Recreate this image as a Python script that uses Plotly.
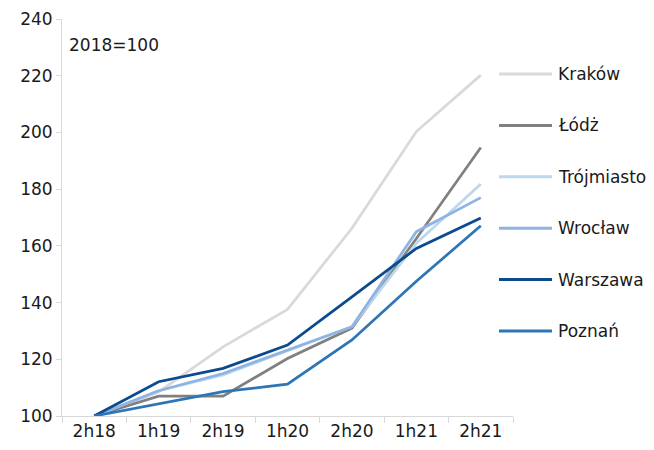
import plotly.graph_objects as go

categories = ["2h18", "1h19", "2h19", "1h20", "2h20", "1h21", "2h21"]
krakow = [100, 108.5, 124.4, 137.6, 166.2, 200.3, 220.2]
lodz = [100, 107.0, 107.0, 120.3, 131.0, 162.6, 194.7]
trojmiasto = [100, 108.9, 114.5, 123.0, 131.5, 160.9, 181.8]
wroclaw = [100, 108.9, 115.0, 123.3, 131.5, 165.0, 177.0]
warszawa = [100, 112.1, 116.8, 125.0, 142.0, 159.1, 169.8]
poznan = [100, 104.3, 108.6, 111.2, 126.8, 147.5, 167.1]

series_names = ["Kraków", "Łódż", "Trójmiasto", "Wrocław", "Warszawa", "Poznań"]
series_values = [krakow, lodz, trojmiasto, wroclaw, warszawa, poznan]
series_colors = ["#D9D9D9", "#808080", "#BDD7EE", "#8DB4E2", "#0B4A8C", "#2E75B6"]

FONT = "DejaVu Sans"
TXT = "#1a1a1a"

# plot area in pixels
L, R, T, B = 62, 513, 19, 416
W, H = 654, 450

def px_x(p):
    return (p - L) / (R - L)

def px_y(p):
    return (B - p) / (B - T)

fig = go.Figure()
for name, vals, col in zip(series_names, series_values, series_colors):
    fig.add_trace(go.Scatter(
        x=categories, y=vals, mode="lines", name=name,
        line=dict(color=col, width=2.75), showlegend=False,
    ))

# manual legend (line sample + label) on the right
shapes = []
annotations = [dict(
    text="2018=100", xref="paper", yref="paper", x=px_x(67), y=px_y(45),
    xanchor="left", yanchor="middle", showarrow=False,
    font=dict(family=FONT, size=17, color=TXT),
)]
for i, (name, col) in enumerate(zip(series_names, series_colors)):
    yy = 74 + i * 51.4
    shapes.append(dict(
        type="line", xref="paper", yref="paper",
        x0=px_x(499), x1=px_x(552), y0=px_y(yy), y1=px_y(yy),
        line=dict(color=col, width=3),
    ))
    annotations.append(dict(
        text=name, xref="paper", yref="paper", x=px_x(556), y=px_y(yy),
        xanchor="left", yanchor="middle", showarrow=False,
        font=dict(family=FONT, size=17, color=TXT),
    ))

fig.update_layout(
    width=W, height=H,
    margin=dict(l=L, r=W - R, t=T, b=H - B, autoexpand=False),
    paper_bgcolor="white", plot_bgcolor="white",
    font=dict(family=FONT, size=17, color=TXT),
    showlegend=False,
    shapes=shapes,
    annotations=annotations,
    xaxis=dict(
        type="category", range=[-0.5, 6.5],
        showgrid=False, showline=True, linecolor="#D9D9D9", linewidth=1,
        ticks="outside", tickson="boundaries", ticklen=6, tickcolor="#D9D9D9",
        tickfont=dict(family=FONT, size=17, color=TXT),
    ),
    yaxis=dict(
        range=[100, 240], dtick=20,
        showgrid=False, zeroline=False, showline=True, linecolor="#D9D9D9", linewidth=1,
        ticks="outside", ticklen=5, tickcolor="#D9D9D9",
        tickfont=dict(family=FONT, size=17, color=TXT),
    ),
)

fig.write_html("out.html")
